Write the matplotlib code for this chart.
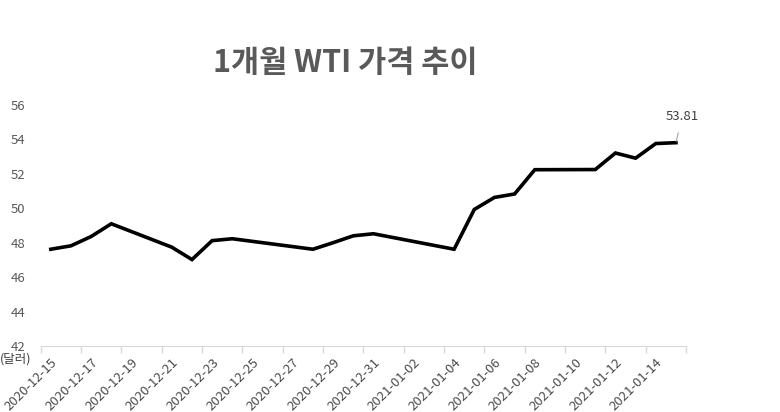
import numpy as np
import matplotlib

matplotlib.use("Agg")
import matplotlib.pyplot as plt

plt.rcParams["font.family"] = ["Noto Sans CJK KR", "DejaVu Sans"]

# trading days, as day offsets from 2020-12-15
START = np.datetime64("2020-12-15")
dates = [
    "2020-12-15", "2020-12-16", "2020-12-17", "2020-12-18",
    "2020-12-21", "2020-12-22", "2020-12-23", "2020-12-24",
    "2020-12-28", "2020-12-29", "2020-12-30", "2020-12-31",
    "2021-01-04", "2021-01-05", "2021-01-06", "2021-01-07", "2021-01-08",
    "2021-01-11", "2021-01-12", "2021-01-13", "2021-01-14", "2021-01-15",
]
prices = [
    47.62, 47.82, 48.36, 49.10,
    47.74, 47.02, 48.12, 48.23,
    47.62, 48.00, 48.40, 48.52,
    47.62, 49.93, 50.63, 50.83, 52.24,
    52.25, 53.21, 52.91, 53.76, 53.81,
]
tick_labels = [
    "2020-12-15", "2020-12-17", "2020-12-19", "2020-12-21", "2020-12-23",
    "2020-12-25", "2020-12-27", "2020-12-29", "2020-12-31", "2021-01-02",
    "2021-01-04", "2021-01-06", "2021-01-08", "2021-01-10", "2021-01-12",
    "2021-01-14",
]
y_ticks = [42, 44, 46, 48, 50, 52, 54, 56]

GRAY = "#595959"
days = np.array([(np.datetime64(d) - START).astype(int) for d in dates]) + 0.5

fig = plt.figure(figsize=(7.8, 4.12), dpi=100)
ax = fig.add_axes([0.0522, 0.1602, 0.8273, 0.585])

ax.plot(days, prices, color="black", lw=2.6, solid_joinstyle="miter")

ax.set_xlim(0, 32)
ax.set_ylim(42, 56)
ax.set_yticks(y_ticks)
ax.tick_params(axis="y", length=0, pad=11, labelsize=9.5, labelcolor=GRAY)

# tick marks at slot edges, labels at slot centers
ax.set_xticks(np.arange(0, 33, 2))
ax.set_xticklabels([])
ax.tick_params(axis="x", which="major", length=5, color="#d9d9d9", width=1)
ax.set_xticks(np.arange(0, 32, 2) + 0.5, minor=True)
ax.set_xticklabels(tick_labels, minor=True, rotation=45, ha="right",
                   rotation_mode="anchor", fontsize=9.5, color="#4a4a4a")
ax.tick_params(axis="x", which="minor", length=0, pad=7)

for s in ["top", "right", "left"]:
    ax.spines[s].set_visible(False)
ax.spines["bottom"].set_color("#d9d9d9")

# last value label with leader line
ax.annotate(f"{prices[-1]:.2f}", xy=(days[-1], prices[-1]),
            xytext=(days[-1] + 0.3, prices[-1] + 1.5),
            ha="center", va="center", fontsize=9.5, color="#404040",
            arrowprops=dict(arrowstyle="-", color="#a6a6a6", lw=0.8,
                            shrinkA=5, shrinkB=1))

fig.text(0.443, 0.847, "1개월 WTI 가격 추이", ha="center", va="center",
         fontsize=22, fontweight="bold", color=GRAY)
fig.text(0.0, 0.128, "(달러)", ha="left", va="center", fontsize=9,
         color="#404040")

fig.savefig("out.png", dpi=100)
